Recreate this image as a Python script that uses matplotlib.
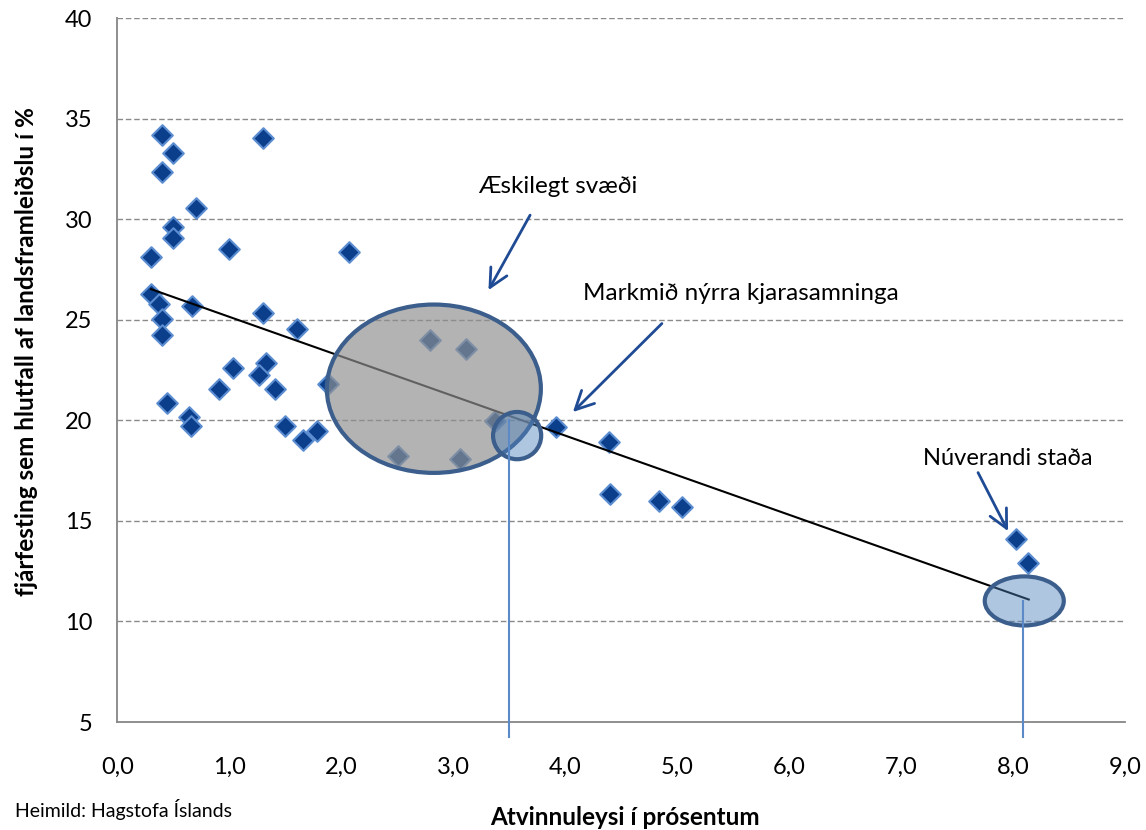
import matplotlib
matplotlib.use('Agg')
import matplotlib.pyplot as plt
from matplotlib.patches import Ellipse

plt.rcParams['font.family'] = ['Lato', 'DejaVu Sans']

# atvinnuleysi (%) og fjarfesting (% af VLF), lesid af myndinni
atvinnuleysi = [0.40, 0.50, 0.40, 0.70, 0.50, 0.50, 0.30, 1.00, 2.07, 1.30,
                0.30, 0.37, 0.40, 0.40, 0.67, 1.30, 1.60, 1.03, 1.33, 1.26,
                0.91, 1.41, 1.88, 0.44, 0.64, 0.66, 1.50, 1.66, 1.78, 2.79,
                3.11, 2.51, 3.06, 3.37, 3.92, 4.39, 4.40, 4.84, 5.04, 8.03,
                8.13]
fjarfesting = [34.19, 33.28, 32.32, 30.53, 29.62, 29.04, 28.12, 28.51, 28.36, 34.01,
               26.27, 25.77, 25.06, 24.23, 25.69, 25.34, 24.53, 22.60, 22.87, 22.27,
               21.56, 21.54, 21.78, 20.88, 20.16, 19.70, 19.72, 19.00, 19.45, 23.98,
               23.52, 18.22, 18.06, 19.97, 19.67, 18.94, 16.35, 15.97, 15.69, 14.11,
               12.90]

# leitnilina
trend_x = [0.30, 8.14]
trend_y = [26.52, 11.09]

# svaedi (midja x, midja y, breidd, haed)
aeskilegt = (2.826, 21.57, 1.912, 8.37)
markmid = (3.57, 19.24, 0.43, 2.35)
nuverandi = (8.10, 11.02, 0.706, 2.44)

# lodrettar linur
markmid_x, markmid_y = 3.50, 20.0
nuverandi_x, nuverandi_y = 8.09, 11.04

x_ticks = [0, 1, 2, 3, 4, 5, 6, 7, 8, 9]
y_ticks = [5, 10, 15, 20, 25, 30, 35, 40]

blue_dark = '#0b3f8c'
blue_edge = '#5b8dd0'
ell_edge = '#3b5e8c'
arrow_col = '#1f4a94'

fig = plt.figure(figsize=(11.46, 8.3), dpi=100)
ax = fig.add_axes([0.1025, 0.1301, 0.8792, 0.8482])

ax.set_xlim(0, 9)
ax.set_ylim(5, 40)
ax.set_xticks(x_ticks)
ax.set_xticklabels([f'{v:.1f}'.replace('.', ',') for v in x_ticks])
ax.set_yticks(y_ticks)
ax.set_yticklabels([str(v) for v in y_ticks])
ax.tick_params(axis='both', length=0, labelsize=17)
ax.tick_params(axis='x', pad=25)
ax.tick_params(axis='y', pad=18)

for s in ['top', 'right']:
    ax.spines[s].set_visible(False)
for s in ['left', 'bottom']:
    ax.spines[s].set_color('#868686')
    ax.spines[s].set_linewidth(1.3)

for v in y_ticks[1:]:
    ax.axhline(v, color='#8a8a8a', lw=1.0, dashes=(4, 2), zorder=0)

ax.scatter(atvinnuleysi, fjarfesting, marker='D', s=110, color=blue_dark,
           edgecolors=blue_edge, linewidths=1.5, zorder=2)

ax.plot(trend_x, trend_y, color='black', lw=1.5, zorder=3)

cx, cy, w, h = aeskilegt
ax.add_patch(Ellipse((cx, cy), w, h, facecolor='#8f8f8f', alpha=0.68,
                     edgecolor='none', zorder=4))
ax.add_patch(Ellipse((cx, cy), w, h, facecolor='none', edgecolor=ell_edge,
                     lw=3, zorder=4.1))

for cx, cy, w, h in [markmid, nuverandi]:
    ax.add_patch(Ellipse((cx, cy), w, h, facecolor='#4f81bd', alpha=0.45,
                         edgecolor='none', zorder=5))
    ax.add_patch(Ellipse((cx, cy), w, h, facecolor='none', edgecolor=ell_edge,
                         lw=3, zorder=5.1))

ax.plot([markmid_x, markmid_x], [4.25, markmid_y], color='#5b8ac6', lw=1.5,
        clip_on=False, zorder=6)
ax.plot([nuverandi_x, nuverandi_x], [4.25, nuverandi_y], color='#5b8ac6', lw=1.5,
        clip_on=False, zorder=6)

arrow = dict(arrowstyle='->,head_length=0.6,head_width=0.3', color=arrow_col,
             lw=2, mutation_scale=22, shrinkA=0, shrinkB=0)
ax.annotate('', xy=(3.314, 26.47), xytext=(3.686, 30.20), arrowprops=arrow, zorder=7)
ax.annotate('', xy=(4.068, 20.41), xytext=(4.863, 24.81), arrowprops=arrow, zorder=7)
ax.annotate('', xy=(7.955, 14.49), xytext=(7.687, 17.40), arrowprops=arrow, zorder=7)

ax.text(3.93, 31.29, 'Æskilegt svæði', ha='center', va='baseline', fontsize=17.5)
ax.text(4.16, 25.97, 'Markmið nýrra kjarasamninga', ha='left', va='baseline', fontsize=17.5)
ax.text(7.196, 17.76, 'Núverandi staða', ha='left', va='baseline', fontsize=17)

fig.text(0.5455, 1 - 817 / 830, 'Atvinnuleysi í prósentum', ha='center', va='center',
         fontsize=17.5, fontweight='bold')
fig.text(27 / 1146, 1 - 352 / 830, 'fjárfesting sem hlutfall af landsframleiðslu í %',
         rotation=90, ha='center', va='center', fontsize=17.5, fontweight='bold')
fig.text(15 / 1146, 1 - 817 / 830, 'Heimild: Hagstofa Íslands', ha='left',
         va='baseline', fontsize=14)

fig.savefig('out.png', dpi=100)
